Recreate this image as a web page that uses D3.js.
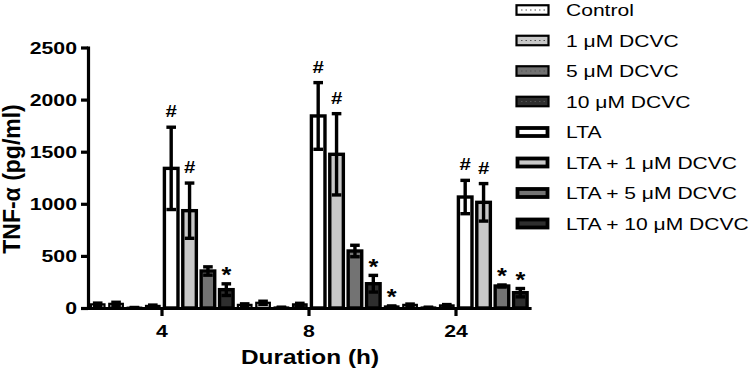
<!DOCTYPE html>
<html>
<head>
<meta charset="utf-8">
<script src="https://cdn.jsdelivr.net/npm/d3@7"></script>
<style>
  body { margin: 0; background: #fff; }
  text { font-family: "Liberation Sans", Arial, sans-serif; fill: #000; }
</style>
</head>
<body>
<script>
const width = 750, height = 371;

// data
const durations = ["4", "8", "24"];
const treatments = ["Control", "1 \u03bcM DCVC", "5 \u03bcM DCVC", "10 \u03bcM DCVC",
    "LTA", "LTA + 1 \u03bcM DCVC", "LTA + 5 \u03bcM DCVC", "LTA + 10 \u03bcM DCVC"];
// one row per treatment, one value per duration (4, 8, 24 h)
const meanValues = [
    [35, 30, 15],
    [40, 50, 30],
    [3, 5, 5],
    [20, 35, 25],
    [1340, 1843, 1065],
    [934, 1475, 1014],
    [355, 547, 211],
    [176, 233, 147]
];
const semValues = [
    [12, 10, 5],
    [15, 15, 8],
    [2, 3, 3],
    [8, 10, 8],
    [395, 320, 160],
    [265, 390, 180],
    [40, 55, 10],
    [56, 80, 40]
];
const yTicks = [0, 500, 1000, 1500, 2000, 2500];
const marks = [
    { duration: "4", treatment: 4, mark: "#" },
    { duration: "4", treatment: 5, mark: "#" },
    { duration: "4", treatment: 7, mark: "*" },
    { duration: "8", treatment: 4, mark: "#" },
    { duration: "8", treatment: 5, mark: "#" },
    { duration: "8", treatment: 7, mark: "*" },
    { duration: "24", treatment: 0, mark: "*" },
    { duration: "24", treatment: 4, mark: "#" },
    { duration: "24", treatment: 5, mark: "#" },
    { duration: "24", treatment: 6, mark: "*" },
    { duration: "24", treatment: 7, mark: "*" }
];

const fills = ["#ffffff", "#c8c8c8", "#737373", "#2e2e2e", "#ffffff", "#c8c8c8", "#737373", "#2e2e2e"];

const svg = d3.select("body").append("svg")
    .attr("width", width)
    .attr("height", height);

const x0 = d3.scaleBand().domain(durations).range([88.5, 529.5]).padding(0);
const x1 = d3.scaleBand().domain(d3.range(treatments.length)).range([0, x0.bandwidth()]).padding(0);
const y = d3.scaleLinear().domain([0, 2500]).range([308, 47.5]);

// stretched text, the figure's lettering is wider than the font
function label(parent, x, yy, str, size, weight, anchor, sx) {
    return parent.append("text")
        .attr("transform", `translate(${x},${yy}) scale(${sx},1)`)
        .attr("font-size", size)
        .attr("font-weight", weight)
        .attr("text-anchor", anchor)
        .text(str);
}

const records = [];
treatments.forEach((t, i) => durations.forEach((d, j) => {
    records.push({ i: i, duration: d, mean: meanValues[i][j], sem: semValues[i][j] });
}));

// bars
svg.append("g")
    .selectAll("rect")
    .data(records)
    .enter().append("rect")
    .attr("x", d => x0(d.duration) + x1(d.i) + 2.4)
    .attr("width", x1.bandwidth() - 4.8)
    .attr("y", d => y(d.mean))
    .attr("height", d => y(0) - y(d.mean))
    .attr("fill", d => fills[d.i])
    .attr("stroke", "#000")
    .attr("stroke-width", d => d.i < 4 ? 2.2 : 3.4);

// error bars
const err = svg.append("g")
    .attr("stroke", "#000")
    .attr("stroke-width", 3.4);
records.forEach(d => {
    const cx = x0(d.duration) + x1(d.i) + x1.bandwidth() / 2;
    const lo = y(Math.max(0, d.mean - d.sem)), hi = y(d.mean + d.sem);
    err.append("line").attr("x1", cx).attr("x2", cx).attr("y1", lo).attr("y2", hi);
    err.append("line").attr("x1", cx - 4.8).attr("x2", cx + 4.8).attr("y1", hi).attr("y2", hi);
    err.append("line").attr("x1", cx - 4.8).attr("x2", cx + 4.8).attr("y1", lo).attr("y2", lo);
});

// significance marks
marks.forEach(m => {
    const j = durations.indexOf(m.duration);
    const cx = x0(m.duration) + x1(m.treatment) + x1.bandwidth() / 2;
    const top = y(meanValues[m.treatment][j] + semValues[m.treatment][j]);
    if (m.mark === "#") label(svg, cx, top - 10, "#", 17, "bold", "middle", 1.2);
    else label(svg, cx, top - 1.5, "*", 22, "bold", "middle", 1.15);
});

// axes
const yAxis = svg.append("g")
    .attr("transform", "translate(88,0)")
    .call(d3.axisLeft(y).tickValues(yTicks).tickSize(7).tickSizeOuter(0).tickFormat(""));
const xAxis = svg.append("g")
    .attr("transform", "translate(0,308)")
    .call(d3.axisBottom(x0).tickSize(8).tickSizeOuter(0).tickFormat(""));
[yAxis, xAxis].forEach(a => {
    a.select(".domain").attr("stroke-width", 3.2).attr("stroke-linecap", "square");
    a.selectAll(".tick line").attr("stroke-width", 3.2);
});

yTicks.forEach(t => label(svg, 77, y(t) + 6, t, 17, "bold", "end", 1.25));
durations.forEach(d => label(svg, x0(d) + x0.bandwidth() / 2, 337, d, 17, "bold", "middle", 1.25));

label(svg, 310, 364, "Duration (h)", 19.5, "bold", "middle", 1.25);
svg.append("text")
    .attr("transform", "translate(20,179) rotate(-90)")
    .attr("font-size", 23)
    .attr("font-weight", "bold")
    .attr("text-anchor", "middle")
    .text("TNF-\u03b1 (pg/ml)");

// legend
const legend = svg.append("g");
treatments.forEach((t, i) => {
    const cy = 10 + i * 30.5;
    const thick = i >= 4;
    legend.append("rect")
        .attr("x", thick ? 517.5 : 516.5)
        .attr("y", cy - (thick ? 4 : 4.75))
        .attr("width", thick ? 30 : 32)
        .attr("height", thick ? 8 : 9.5)
        .attr("fill", fills[i])
        .attr("stroke", "#000")
        .attr("stroke-width", thick ? 3.8 : 2.2);
    if (!thick) {
        legend.append("line")
            .attr("x1", 521).attr("x2", 546)
            .attr("y1", cy).attr("y2", cy)
            .attr("stroke", "#555")
            .attr("stroke-width", 1)
            .attr("stroke-dasharray", "1.5,3");
    }
    label(legend, 566, cy + 6, t, 17, "normal", "start", 1.24);
});
</script>
</body>
</html>
